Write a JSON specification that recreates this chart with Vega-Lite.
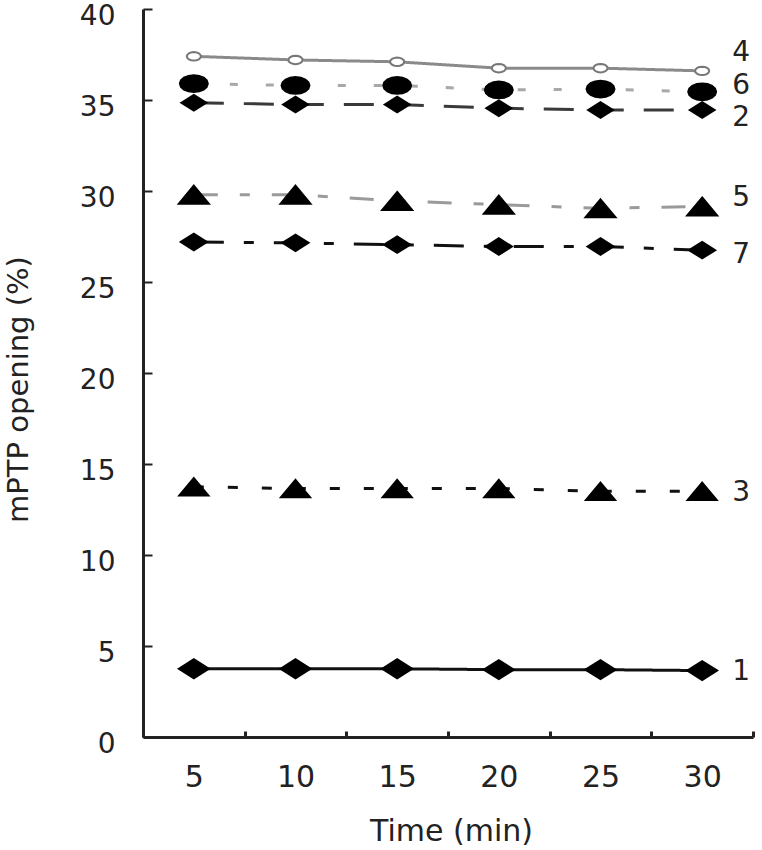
{
  "$schema": "https://vega.github.io/schema/vega-lite/v6.json",
  "width": 610,
  "height": 728,
  "autosize": "none",
  "padding": {"left": 143, "top": 9, "right": 9, "bottom": 113},
  "background": "white",
  "config": {"view": {"stroke": null}, "font": "DejaVu Sans"},
  "datasets": {
    "points": [
      {"series": "1", "time": 5, "value": 3.75},
      {"series": "1", "time": 10, "value": 3.75},
      {"series": "1", "time": 15, "value": 3.75},
      {"series": "1", "time": 20, "value": 3.7},
      {"series": "1", "time": 25, "value": 3.7},
      {"series": "1", "time": 30, "value": 3.65},
      {"series": "2", "time": 5, "value": 34.85},
      {"series": "2", "time": 10, "value": 34.75},
      {"series": "2", "time": 15, "value": 34.75},
      {"series": "2", "time": 20, "value": 34.55},
      {"series": "2", "time": 25, "value": 34.45},
      {"series": "2", "time": 30, "value": 34.45},
      {"series": "3", "time": 5, "value": 13.75},
      {"series": "3", "time": 10, "value": 13.65},
      {"series": "3", "time": 15, "value": 13.65},
      {"series": "3", "time": 20, "value": 13.65},
      {"series": "3", "time": 25, "value": 13.5},
      {"series": "3", "time": 30, "value": 13.5},
      {"series": "4", "time": 5, "value": 37.4},
      {"series": "4", "time": 10, "value": 37.2},
      {"series": "4", "time": 15, "value": 37.1},
      {"series": "4", "time": 20, "value": 36.75},
      {"series": "4", "time": 25, "value": 36.75},
      {"series": "4", "time": 30, "value": 36.6},
      {"series": "5", "time": 5, "value": 29.8},
      {"series": "5", "time": 10, "value": 29.8},
      {"series": "5", "time": 15, "value": 29.45},
      {"series": "5", "time": 20, "value": 29.25},
      {"series": "5", "time": 25, "value": 29.05},
      {"series": "5", "time": 30, "value": 29.15},
      {"series": "6", "time": 5, "value": 35.9},
      {"series": "6", "time": 10, "value": 35.8},
      {"series": "6", "time": 15, "value": 35.8},
      {"series": "6", "time": 20, "value": 35.55},
      {"series": "6", "time": 25, "value": 35.6},
      {"series": "6", "time": 30, "value": 35.45},
      {"series": "7", "time": 5, "value": 27.2},
      {"series": "7", "time": 10, "value": 27.15},
      {"series": "7", "time": 15, "value": 27.05},
      {"series": "7", "time": 20, "value": 26.95},
      {"series": "7", "time": 25, "value": 26.95},
      {"series": "7", "time": 30, "value": 26.75}
    ],
    "labels": [
      {"series": "1", "time": 30, "value": 3.57},
      {"series": "2", "time": 30, "value": 34.0},
      {"series": "3", "time": 30, "value": 13.41},
      {"series": "4", "time": 30, "value": 37.58},
      {"series": "5", "time": 30, "value": 29.6},
      {"series": "6", "time": 30, "value": 35.75},
      {"series": "7", "time": 30, "value": 26.48}
    ]
  },
  "encoding": {
    "x": {
      "field": "time",
      "type": "ordinal",
      "scale": {"paddingInner": 0, "paddingOuter": 0},
      "axis": {
        "title": "Time (min)",
        "tickBand": "extent",
        "tickSize": -6,
        "tickWidth": 3,
        "tickColor": "#222",
        "domainColor": "#222",
        "domainWidth": 3,
        "labelAngle": 0,
        "labelPadding": 31,
        "labelFont": "DejaVu Sans",
        "labelFontSize": 30,
        "labelColor": "#222",
        "titleFont": "DejaVu Sans",
        "titleFontSize": 30,
        "titleFontWeight": "normal",
        "titleColor": "#222",
        "titleY": 103,
        "titleX": 308,
        "titleBaseline": "alphabetic"
      }
    },
    "y": {
      "field": "value",
      "type": "quantitative",
      "scale": {"domain": [0, 40], "nice": false},
      "axis": {
        "title": "mPTP opening (%)",
        "values": [0, 5, 10, 15, 20, 25, 30, 35, 40],
        "grid": false,
        "tickSize": -9,
        "tickWidth": 2,
        "tickColor": "#222",
        "domainColor": "#222",
        "domainWidth": 3,
        "labelPadding": 37,
        "labelOffset": 7,
        "labelFont": "DejaVu Sans",
        "labelFontSize": 28,
        "labelColor": "#222",
        "titleFont": "DejaVu Sans",
        "titleFontSize": 29,
        "titleFontWeight": "normal",
        "titleColor": "#222",
        "titleX": -110,
        "titleY": 380,
        "titleAngle": -90,
        "titleAlign": "center",
        "titleBaseline": "bottom"
      }
    }
  },
  "layer": [
    {
      "data": {"name": "points"},
      "mark": {"type": "line", "strokeWidth": 3},
      "encoding": {
        "stroke": {
          "field": "series",
          "type": "nominal",
          "scale": {"domain": ["1", "2", "3", "4", "5", "6", "7"], "range": ["#111", "#3a3a3a", "#111", "#8a8a8a", "#9a9a9a", "#a8a8a8", "#111"]},
          "legend": null
        },
        "strokeDash": {
          "field": "series",
          "type": "nominal",
          "scale": {"domain": ["1", "2", "3", "4", "5", "6", "7"], "range": [[1, 0], [30, 20], [10, 24], [1, 0], [24, 22, 10, 22], [8, 28], [30, 20, 10, 20]]},
          "legend": null
        }
      }
    },
    {
      "data": {"name": "points"},
      "mark": {"type": "point", "strokeWidth": 2, "opacity": 1, "fillOpacity": 1, "size": 900},
      "encoding": {
        "shape": {
          "field": "series",
          "type": "nominal",
          "scale": {"domain": ["1", "2", "3", "4", "5", "6", "7"], "range": [
            "M -1 0 L 0 -0.63 L 1 0 L 0 0.63 Z",
            "M -0.83 0 L 0 -0.52 L 0.83 0 L 0 0.52 Z",
            "M 0 -0.58 L 0.97 0.58 L -0.97 0.58 Z",
            "M 0.47 0 L 0.434 0.108 L 0.332 0.199 L 0.18 0.26 L 0 0.282 L -0.18 0.26 L -0.332 0.199 L -0.434 0.108 L -0.47 0 L -0.434 -0.108 L -0.332 -0.199 L -0.18 -0.26 L 0 -0.282 L 0.18 -0.26 L 0.332 -0.199 L 0.434 -0.108 Z",
            "M 0 -0.6 L 1 0.6 L -1 0.6 Z",
            "M 0.93 0 L 0.859 0.214 L 0.658 0.394 L 0.356 0.515 L 0 0.558 L -0.356 0.515 L -0.658 0.394 L -0.859 0.214 L -0.93 0 L -0.859 -0.214 L -0.658 -0.394 L -0.356 -0.515 L 0 -0.558 L 0.356 -0.515 L 0.658 -0.394 L 0.859 -0.214 Z",
            "M -0.87 0 L 0 -0.55 L 0.87 0 L 0 0.55 Z"
          ]},
          "legend": null
        },
        "fill": {
          "field": "series",
          "type": "nominal",
          "scale": {"domain": ["1", "2", "3", "4", "5", "6", "7"], "range": ["#000", "#000", "#000", "#fff", "#000", "#000", "#000"]},
          "legend": null
        },
        "stroke": {
          "field": "series",
          "type": "nominal",
          "scale": {"domain": ["1", "2", "3", "4", "5", "6", "7"], "range": ["#000", "#000", "#000", "#777", "#000", "#000", "#000"]},
          "legend": null
        }
      }
    },
    {
      "data": {"name": "labels"},
      "mark": {"type": "text", "align": "left", "baseline": "middle", "dx": 30, "font": "DejaVu Sans", "fontSize": 28, "color": "#222"},
      "encoding": {
        "text": {"field": "series", "type": "nominal"}
      }
    }
  ],
  "resolve": {"scale": {"stroke": "independent"}}
}
